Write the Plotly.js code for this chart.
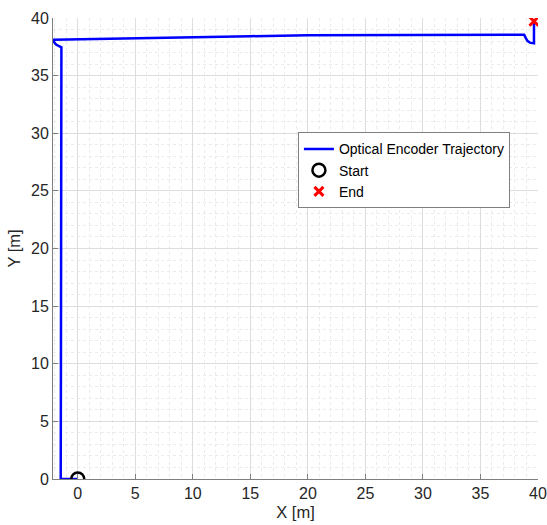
<!DOCTYPE html>
<html>
<head>
<meta charset="utf-8">
<script src="https://cdn.plot.ly/plotly-3.0.1.min.js"></script>
<style>
  html, body { margin: 0; padding: 0; background: #fff; }
  #chart { width: 547px; height: 525px; }
</style>
</head>
<body>
<div id="chart"></div>
<script>
// Optical encoder trajectory samples (metres)
const trajX = [0, -1.48, -1.46, -1.43, -1.40, -1.37, -1.36, -1.42, -1.62, -1.88, -2.05, -2.12, -2.08,
               5, 10, 15, 20, 25, 30, 35, 38.8, 38.92, 39.08, 39.3, 39.55, 39.65, 39.65];
const trajY = [0, 0, 10, 20, 30, 35, 37.35, 37.45, 37.55, 37.7, 37.9, 38.05, 38.12,
               38.22, 38.32, 38.42, 38.5, 38.5, 38.5, 38.52, 38.55, 38.3, 38.02, 37.86, 37.8, 37.8, 39.72];
const startX = [0], startY = [0];
const endX = [39.65], endY = [39.72];
const xTicks = [0, 5, 10, 15, 20, 25, 30, 35, 40];
const yTicks = [0, 5, 10, 15, 20, 25, 30, 35, 40];

const FONT = 'Liberation Sans, Arial, Helvetica, sans-serif';

const axisCommon = {
  showline: true,
  linecolor: '#7f7f7f',
  linewidth: 1,
  ticks: 'inside',
  ticklen: 5,
  tickcolor: '#7f7f7f',
  showgrid: true,
  gridcolor: '#dedede',
  gridwidth: 1,
  zeroline: false,
  mirror: false,
  tickfont: { family: FONT, size: 16, color: '#262626' },
  minor: { dtick: 1, tick0: 0, showgrid: true, gridcolor: '#ebebeb', gridwidth: 1, griddash: 'dot', ticks: '' }
};

const data = [
  { x: trajX, y: trajY, mode: 'lines', name: 'Optical Encoder Trajectory',
    line: { color: '#0000ff', width: 2.5 } },
  { x: startX, y: startY, mode: 'markers', name: 'Start',
    marker: { symbol: 'circle-open', size: 13, color: '#000000', line: { width: 2.5, color: '#000000' } } },
  { x: endX, y: endY, mode: 'markers', name: 'End',
    marker: { symbol: 'x-thin-open', size: 9, color: '#ff0000', line: { width: 3, color: '#ff0000' } } }
];

const layout = {
  width: 547, height: 525,
  margin: { l: 53, r: 9, t: 18, b: 46 },
  paper_bgcolor: '#ffffff',
  plot_bgcolor: '#ffffff',
  font: { family: FONT, color: '#262626' },
  showlegend: true,
  legend: {
    x: 0.505, y: 0.752, xanchor: 'left', yanchor: 'top',
    bgcolor: '#ffffff', bordercolor: '#7f7f7f', borderwidth: 1,
    font: { family: FONT, size: 14, color: '#000000' },
    itemwidth: 30, tracegroupgap: 0
  },
  xaxis: Object.assign({}, axisCommon, {
    range: [-2.15, 40], tickmode: 'array', tickvals: xTicks,
    title: { text: 'X [m]', font: { family: FONT, size: 16.5, color: '#262626' }, standoff: 5 }
  }),
  yaxis: Object.assign({}, axisCommon, {
    range: [0, 40], tickmode: 'array', tickvals: yTicks,
    title: { text: 'Y [m]', font: { family: FONT, size: 16.5, color: '#262626' }, standoff: 6 }
  })
};

Plotly.newPlot('chart', data, layout, { displayModeBar: false, staticPlot: true });
</script>
</body>
</html>
